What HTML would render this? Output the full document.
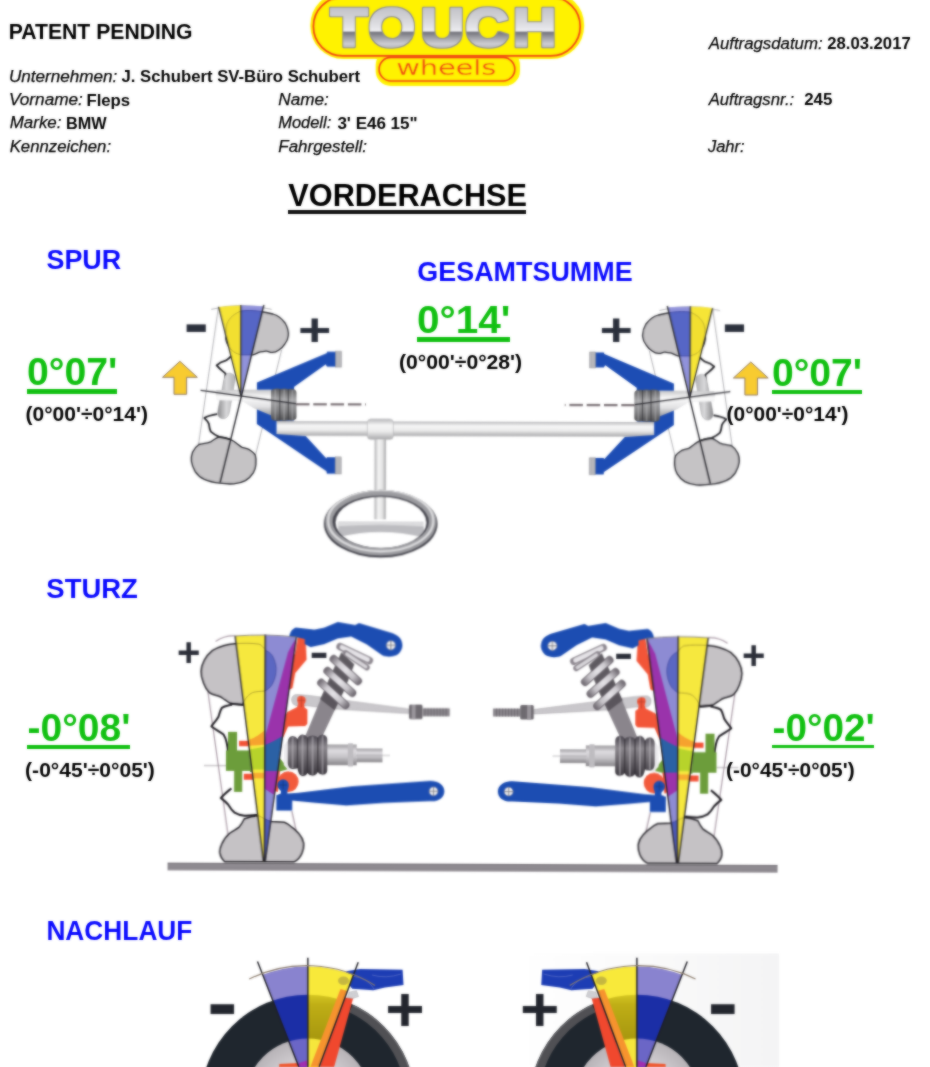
<!DOCTYPE html>
<html lang="de">
<head>
<meta charset="utf-8">
<title>Vorderachse</title>
<style>
html,body{margin:0;padding:0;background:#fff;}
body{width:930px;height:1067px;position:relative;overflow:hidden;font-family:"Liberation Sans",Arial,sans-serif;color:#111;}
.t{position:absolute;left:0;top:0;white-space:nowrap;line-height:1;margin:0;transform-origin:0 0;}
.b{font-weight:bold;color:#000;}
.i{font-style:italic;color:#000;-webkit-text-stroke:0.25px #000;}
.sec{font-weight:bold;color:#0a0aff;}
.val{font-weight:bold;color:#11c011;}
.rng{font-weight:bold;color:#000;}
.u{position:absolute;}
#art{position:absolute;left:0;top:0;}
#txt{position:absolute;left:0;top:0;width:930px;height:1067px;filter:url(#softT);}
</style>
</head>
<body>
<svg id="art" width="930" height="1067" viewBox="0 0 930 1067">
<defs>
<filter id="softT" x="-2%" y="-2%" width="104%" height="104%" color-interpolation-filters="sRGB"><feGaussianBlur stdDeviation="0.9" result="b"/><feComposite in="b" in2="SourceGraphic" operator="arithmetic" k1="0" k2="0.55" k3="0.45" k4="0"/></filter>
<filter id="soft" x="-5%" y="-5%" width="110%" height="110%" color-interpolation-filters="sRGB"><feGaussianBlur stdDeviation="0.9" result="b"/><feComposite in="b" in2="SourceGraphic" operator="arithmetic" k1="0" k2="0.7" k3="0.3" k4="0"/></filter>
<linearGradient id="rodG" x1="0" y1="0" x2="0" y2="1"><stop offset="0" stop-color="#b9b9bb"/><stop offset="0.3" stop-color="#f6f6f6"/><stop offset="0.6" stop-color="#ececec"/><stop offset="1" stop-color="#a9a9ab"/></linearGradient>
<linearGradient id="colG" x1="0" y1="0" x2="1" y2="0"><stop offset="0" stop-color="#b4b4b6"/><stop offset="0.35" stop-color="#f4f4f4"/><stop offset="0.7" stop-color="#e4e4e4"/><stop offset="1" stop-color="#a6a6a8"/></linearGradient>
<linearGradient id="thrG" x1="0" y1="0" x2="0" y2="1"><stop offset="0" stop-color="#5c5c5e"/><stop offset="0.35" stop-color="#a8a8aa"/><stop offset="0.7" stop-color="#808082"/><stop offset="1" stop-color="#4e4e50"/></linearGradient>
<linearGradient id="coneG" x1="0" y1="0" x2="0" y2="1"><stop offset="0" stop-color="#c6c6c8"/><stop offset="0.3" stop-color="#fafafa"/><stop offset="0.65" stop-color="#e2e2e4"/><stop offset="1" stop-color="#9c9c9e"/></linearGradient>
<linearGradient id="flG" x1="0" y1="0" x2="1" y2="0"><stop offset="0" stop-color="#8c8c8e"/><stop offset="0.5" stop-color="#d8d8da"/><stop offset="1" stop-color="#b0b0b2"/></linearGradient>
<path id="spTyreT" d="M240.9 311 C252 309.500 263 311.500 272.800 314 C278 315.500 282.300 319.300 285 323 C288 328 288.600 332 288.200 335.800 C287.800 340 286.500 342 284.600 344.100 C282.500 347.500 281 348.500 278.700 350 C276 352 274 352.600 271.600 352.400 C269.500 352.300 268 350.800 265.700 351.200 C263 351.800 261 351.600 258.600 352.400 C256.500 353.200 255 354.600 252.700 354.800 L240.900 354.800 C237 354 234 352.500 231.400 350 C229 347.500 227.500 345.500 226.700 342.900 C225.500 339.500 225.300 336.500 225.500 333.700 C225.600 330 226 327 226.700 324 C228 320.500 230 318 232.600 315.700 C235.500 313.500 238 312 240.900 311 Z"/>
<clipPath id="spYw"><path d="M218.400 306.900 Q229.500 305.400 240.700 305.400 L240.900 396.200 Z"/></clipPath>
<clipPath id="spBw"><path d="M240.700 305.400 Q252 305.300 263.300 306.300 L240.900 396.200 Z"/></clipPath>
<g id="spurL">
 <!-- wheel thin outline -->
 <path d="M218.4 306.9 L198.6 444.5 M281.5 350 L255.6 455" fill="none" stroke="#a2a2a6" stroke-width="0.85"/>
 <path d="M211 309.4 Q241 301.5 271.5 309.4" fill="none" stroke="#a2a2a6" stroke-width="0.85"/>
 <!-- top tyre -->
 <use href="#spTyreT" fill="#c5c3c5" stroke="#2a2a30" stroke-width="1.3"/>
 <!-- bottom tyre -->
 <path d="M199.2 444.5 C196 446.500 194 449.500 192.700 452.300 C191.500 455.500 191.200 458.500 191.500 461.300 C192 465.500 193.500 468.500 195.300 471.600 C197.500 475 200.500 477.500 204.400 479.400 C209 481.500 214 482.600 219.800 483.200 C224.500 483.900 229 484.200 234 483.900 C238.500 483.500 242 482.500 245.600 480.600 C249 478.500 251.500 476 253.400 472.900 C255 470 255.800 467.500 256 464.500 C256.300 460.500 256.200 457.500 255.300 454.800 C253.500 452 251.500 451 249.500 449.700 C247 448.200 244.500 448.300 241.800 447.100 C239.500 446 238.500 444.500 236.600 443.200 C234.500 441.500 232.500 440.300 230.200 439.400 C227 438 223.500 437 219.800 436.800 C216.500 437.500 214 439.500 210.800 441.900 C207 443.500 203.500 443.500 199.200 444.500 Z" fill="#c5c3c5" stroke="#2a2a30" stroke-width="1.35"/>
 <!-- rim profile jagged -->
 <path d="M232 355.500 L230.800 356.500 C228.500 358.500 227.500 360 225.500 360.700 C222 361.500 219.500 362.500 216.600 365.400 C219 368.500 222.500 371 225.500 373.700 L224.300 385.500" fill="none" stroke="#1e1e23" stroke-width="1.8" stroke-linejoin="round"/>
 <path d="M217.300 414.200 C212 415 208 416 204.400 418.100 C206.500 420 208 421.500 208.900 423.900 C209.200 426.500 209.500 429 210.800 431.600 C213.500 434 216 435.500 219.200 436.800 C223 437.500 227 438.300 230.500 439.500" fill="none" stroke="#1e1e23" stroke-width="1.8" stroke-linejoin="round"/>
 <!-- hub flange -->
 <path d="M229.500 373.200 C233.500 373.500 235.500 376 235 380 L229.500 412 C228.500 417 225.500 419.500 221.500 418.500 C218 417.500 217.300 414 218 410 L224 379 C225 375 226.500 373 229.500 373.200 Z" fill="url(#flG)" stroke="#9a9a9e" stroke-width="0.5"/>
 <!-- blue wishbone -->
 <path d="M256.900 382.500 L326.600 353 L327 351.500 L336.800 351.500 L336.800 366.500 L327 366.500 L325.600 364.200 L294.100 386.800 L294.100 420.500 L276.600 421 L276.600 434 L305.900 436 L326.500 458.300 L327 457 L336.800 457 L336.800 473.500 L327 473.500 L326.600 471.100 L256.900 424 Z" fill="#1d4db4"/>
 <rect x="335.300" y="351" width="6" height="16" fill="#b6b6ba" stroke="#8e8e92" stroke-width="0.5"/>
 <rect x="335.300" y="456.800" width="6" height="17" fill="#b6b6ba" stroke="#8e8e92" stroke-width="0.5"/>
 <!-- spindle cone -->
 <path d="M216.300 390 Q215 395 216.300 400.300 L236 400.800 L243 401.800 L254 408.300 L271.500 415.500 L271.500 389.400 Z" fill="url(#coneG)"/>
 <path d="M203 390.200 L216.300 390.800 L216.300 393.500 Z" fill="#dcdcde"/>
 <!-- threaded cylinder -->
 <path d="M271 392.500 C271 389.500 273 388.800 275 388.800 C277 388.200 279.500 388.300 281 389 C283 388.200 286.500 388.200 288.500 389.200 C290.500 388.500 293.500 388.700 295 389.700 Q296.500 390.500 296.500 392.500 L296.500 417 Q296.500 419 295 419.600 C293 420.600 290.500 420.700 288.500 420 C286.500 421 283 421 281 420.200 C279 421 277 421 275 420.500 C272.500 420.300 271 419.500 271 417 Z" fill="url(#thrG)"/>
 <path d="M279.800 389 V420.300 M288.300 389 V420.200" stroke="#38383c" stroke-width="1.200" opacity="0.7"/>
 <path d="M275.300 389.500 V420 M284.200 389.500 V420 M292.500 390 V419.500" stroke="#c4c4c8" stroke-width="1.800" opacity="0.35"/>
 <!-- axis thin line + dashes -->
 <path d="M200.500 390.300 L296 403.700" stroke="#2e2e34" stroke-width="1.2"/>
 <path d="M296 404.100 H366" stroke="#7b7276" stroke-width="2.300" stroke-dasharray="13.500 3.800"/>
 <!-- wedges -->
 <g clip-path="url(#spYw)">
  <rect x="215" y="300" width="30" height="100" fill="#f6e536"/>
  <use href="#spTyreT" fill="#f2df30" stroke="#b8a830" stroke-width="0.9"/>
 </g>
 <g clip-path="url(#spBw)">
  <rect x="238" y="300" width="30" height="100" fill="#9092da"/>
  <use href="#spTyreT" fill="#5666c6" stroke="#3f4aa6" stroke-width="1"/>
 </g>
 <path d="M218.400 306.900 L240.900 396.200 M240.700 305 L240.900 396.200" stroke="#26262c" stroke-width="1.15" fill="none"/>
 <!-- wheel centre line -->
 <path d="M263.700 304.800 L220.300 482.500" stroke="#222228" stroke-width="1.350"/>
</g>
</defs>
<g filter="url(#soft)" transform="rotate(0.15 240 395)">
 <!-- rack rod -->
 <rect x="276.500" y="421" width="378" height="14.600" fill="url(#rodG)"/>
 <use href="#spurL"/>
 <use href="#spurL" transform="translate(930.800,0) scale(-1,1)"/>
 <!-- boss -->
 <rect x="367.400" y="418.800" width="26" height="20.300" rx="3.500" fill="url(#rodG)" stroke="#b2b2b6" stroke-width="0.6"/>
 <!-- column -->
 <rect x="374.600" y="439" width="11.500" height="80" fill="url(#colG)"/>
 <!-- steering wheel -->
 <path d="M338.500 521.500 L424 521.500 L424 537 Q381 526.500 338.500 537 Z" fill="#bcbcc0"/>
 <path d="M338.500 521.500 L424 521.500 L424 526 Q381 523 338.500 526 Z" fill="#dcdcde"/>
 <clipPath id="ringC"><path clip-rule="evenodd" d="M324.200 523.500 A56.800 33.700 0 1 0 437.800 523.500 A56.800 33.700 0 1 0 324.200 523.500 Z M335.800 522.200 A45.500 25.600 0 1 1 426.800 522.200 A45.500 25.600 0 1 1 335.800 522.200 Z"/></clipPath>
 <g clip-path="url(#ringC)">
  <rect x="320" y="485" width="125" height="78" fill="#45454d"/>
  <ellipse cx="381" cy="521.500" rx="51.800" ry="30" fill="none" stroke="#9c9ca0" stroke-width="7.400"/>
  <ellipse cx="381" cy="520.300" rx="52.600" ry="30.700" fill="none" stroke="#dadadc" stroke-width="2.400"/>
 </g>
</g>
<g filter="url(#soft)">
 <path id="arw" d="M179.900 361.300 L197.300 377.300 L186.600 377.300 L186.600 394.300 L174 394.300 L174 377.300 L162.500 377.300 Z" fill="#f8cb30" stroke="#8f7862" stroke-width="1"/>
 <use href="#arw" transform="translate(570.900,0.700)"/>
 <g font-family="'Liberation Sans',Arial,sans-serif" font-weight="bold" fill="#2b303c" text-anchor="middle">
  <text x="315" y="349" font-size="54" transform="translate(314.750,330.900) scale(1.06,0.84) translate(-315,-331.500)">+</text>
  <text x="616.500" y="349" font-size="54" transform="translate(616.250,330.900) scale(1.06,0.84) translate(-616.500,-331.500)">+</text>
  <text x="196" y="342" font-size="50" transform="translate(196.300,328) scale(0.765,1.38) translate(-196,-325.500)">−</text>
  <text x="734" y="342" font-size="50" transform="translate(734.300,328) scale(0.765,1.38) translate(-734,-325.500)">−</text>
 </g>
</g>

<defs>
<linearGradient id="silv" gradientUnits="userSpaceOnUse" x1="0" y1="5" x2="0" y2="48"><stop offset="0" stop-color="#bebec4"/><stop offset="0.3" stop-color="#d2d2d6"/><stop offset="0.55" stop-color="#e6e6ea"/><stop offset="0.6" stop-color="#f2f2f4"/><stop offset="0.64" stop-color="#74747c"/><stop offset="0.74" stop-color="#9a9aa0"/><stop offset="0.9" stop-color="#cdcdd2"/><stop offset="1" stop-color="#b8b8be"/></linearGradient>
<filter id="tOut" x="-3%" y="-10%" width="106%" height="120%" color-interpolation-filters="sRGB"><feMorphology in="SourceAlpha" operator="dilate" radius="0.8" result="d"/><feFlood flood-color="#8e8e96"/><feComposite in2="d" operator="in" result="o"/><feMerge><feMergeNode in="o"/><feMergeNode in="SourceGraphic"/></feMerge></filter>
</defs>
<g filter="url(#soft)">
 <rect x="310.300" y="-8" width="273.900" height="67" rx="33" fill="#fff200"/>
 <rect x="375.700" y="50" width="144.300" height="36" rx="15" fill="#fff200"/>
 <rect x="313.400" y="-3" width="266.800" height="58.900" rx="29.400" fill="none" stroke="#f03c14" stroke-width="1.700"/>
 <rect x="379.100" y="57.400" width="135.700" height="23.600" rx="11.800" fill="none" stroke="#f03c14" stroke-width="1.600"/>
 <g font-family="'Liberation Sans',Arial,sans-serif" font-weight="bold" font-size="54.5" stroke-linejoin="round" transform="scale(1.1,1)">
  <text x="300.67 335.09 382.44 423.00 466.35" y="46" fill="url(#silv)" stroke="url(#silv)" stroke-width="2.600" filter="url(#tOut)">TOUCH</text>
 </g>
 <text x="0" y="0" transform="translate(396.200,75.200) scale(1.42,1)" font-family="'DejaVu Sans','Liberation Sans',sans-serif" font-size="20.500" textLength="70.500" lengthAdjust="spacing" fill="#ee4612" stroke="#fff200" stroke-width="0.350">wheels</text>
</g>

<defs>
<linearGradient id="belG" x1="0" y1="0" x2="0" y2="1"><stop offset="0" stop-color="#45414a"/><stop offset="0.3" stop-color="#8a868c"/><stop offset="0.55" stop-color="#6e6a70"/><stop offset="1" stop-color="#37333a"/></linearGradient>
<linearGradient id="shG" x1="0" y1="0" x2="0" y2="1"><stop offset="0" stop-color="#9c9a9e"/><stop offset="0.3" stop-color="#dedce0"/><stop offset="0.6" stop-color="#c6c4c8"/><stop offset="1" stop-color="#858387"/></linearGradient>
<linearGradient id="grdG" x1="0" y1="0" x2="0" y2="1"><stop offset="0" stop-color="#6c686e"/><stop offset="0.25" stop-color="#928e94"/><stop offset="0.8" stop-color="#8a868c"/><stop offset="1" stop-color="#a8a4aa"/></linearGradient>
<clipPath id="ywC"><path d="M234.700 636.100 L264.800 635.300 L264.800 862 L263.700 862 Z"/></clipPath>
<clipPath id="bwC"><path d="M264.800 635.300 L296 636.900 L265.700 862 L264.800 862 Z"/></clipPath>
<path id="stTyreT" d="M234.700 643.800 C229 644.300 226 645 223.400 645.800 C218.500 647.300 215 648.800 212.100 650.600 C208.500 653.500 206 656.500 204 660.300 C202 664 201 667.500 200.800 671.600 C200.800 676 201.700 679.500 203.200 682.900 C204.500 686.500 206.500 690 208.900 692.600 C211.500 694.500 214 695 216.900 695.800 C219.500 696.500 221.500 697.500 223.400 699 C225.500 700.500 227.500 702.200 229.800 703.100 C234 704.300 238 704.600 242.700 704.700 C243 703 243.500 701.800 244.400 700.600 C246.500 697 249 694 252.400 692.600 C256 691.400 260 691.500 264.500 691 C267.500 689.500 270 687.500 271.800 684.500 C274.500 679.500 276 674 275.800 668.400 C275.500 663.500 274 659 271.800 655.500 C270 653 268 651.500 265.300 650.600 C263.500 647.500 261.500 645.500 258.900 644.200 C251 643 243 643.200 234.700 643.800 Z"/>
<path id="stTyreB" d="M244.400 819 C243 822 241.500 824.800 239.500 827.100 C236.500 829.500 233 831 229.800 833.500 C226.500 836.500 223.500 840.500 221.800 844.800 C220.500 847.500 220 850 220.200 852.900 C220.700 856.500 222.500 859.500 225 861.800 L294.400 861.800 C298 860 300.800 857 302.400 852.900 C303.800 849.500 304.300 846.500 304 843.200 C303.300 839.500 301.500 836 299.200 833.500 C296.800 830.500 294 828.200 291.100 826.300 C289 824.500 287 823.200 284.700 822.300 C280.500 821.600 276 821.800 271.800 821.500 C267 820.500 263 817.500 258.900 815.800 C254 816 249 817 244.400 819 Z"/>
<linearGradient id="cg0" gradientUnits="userSpaceOnUse" x1="318.0" y1="679.6" x2="348.3" y2="707.8"><stop offset="0" stop-color="#5e5860"/><stop offset="0.28" stop-color="#cfccd1"/><stop offset="0.5" stop-color="#e4e2e6"/><stop offset="0.75" stop-color="#c6c3c8"/><stop offset="1" stop-color="#5e5860"/></linearGradient>
<linearGradient id="cg1" gradientUnits="userSpaceOnUse" x1="324.2" y1="667.8" x2="355.0" y2="695.5"><stop offset="0" stop-color="#5e5860"/><stop offset="0.28" stop-color="#cfccd1"/><stop offset="0.5" stop-color="#e4e2e6"/><stop offset="0.75" stop-color="#c6c3c8"/><stop offset="1" stop-color="#5e5860"/></linearGradient>
<linearGradient id="cg2" gradientUnits="userSpaceOnUse" x1="330.3" y1="655.8" x2="360.7" y2="683.7"><stop offset="0" stop-color="#5e5860"/><stop offset="0.28" stop-color="#cfccd1"/><stop offset="0.5" stop-color="#e4e2e6"/><stop offset="0.75" stop-color="#c6c3c8"/><stop offset="1" stop-color="#5e5860"/></linearGradient>
<g id="sturzL">
 <!-- thin reference outline -->
 <path d="M215.300 641.500 Q224 635.500 234.700 636 M207.500 690 L229 840 M292 811 L296.500 831" fill="none" stroke="#a898a4" stroke-width="1.2"/>
 <path d="M204 765.800 H226" stroke="#8e8a8e" stroke-width="0.7"/>
 <!-- tyres -->
 <use href="#stTyreT" fill="#c5c2c5" stroke="#28262c" stroke-width="1.5"/>
 <use href="#stTyreB" fill="#c5c2c5" stroke="#28262c" stroke-width="1.5"/>
 <!-- rim profile -->
 <path d="M229.800 703.800 L243 705 M232 704.800 C230.500 705 229.500 705.200 228.200 705.500 C225.500 706 223.500 706.800 221.800 707.900 C220 710.500 219.500 713.500 218.500 716.800 C216.500 720.500 213.500 723.500 211.300 726.500 C215 729.500 219.500 732 223.400 734.500 C225 737 226 739.500 226.600 742.600 C227.500 746.500 228 750 228.200 753.900" fill="none" stroke="#1c1a20" stroke-width="2" stroke-linejoin="round"/>
 <path d="M231.500 788.400 C228 791.500 224 794.500 221 798.100 C223.500 800 226 802 228.200 804.500 C230 807.500 232 810.500 234.700 812.600 C238 814.500 241 815.300 244.400 815.800 C249 816 253 815.500 257.300 815" fill="none" stroke="#1c1a20" stroke-width="2" stroke-linejoin="round"/>
 <!-- green hub -->
 <path d="M228 732 L237 732 L237 750.600 L250.300 750.600 L250.300 771 L242.300 771 L242.300 792 L234.200 792 L234.200 771 L226 771 L226 750.600 L228 750.600 Z" fill="#6c9d3b"/>
 <path d="M250 746 L279 757 L288.600 768.900 L278 772 L250 772 Z" fill="#6c9d3b"/>
 <!-- red knuckle parts -->
 <rect x="239" y="740.900" width="12" height="5.400" fill="#f25236"/>
 <rect x="243.900" y="773.800" width="30" height="6" fill="#f25236"/>
 <path d="M266 771 L280 771 L278 792 L266 788.300 Z" fill="#f25236"/>
 <circle cx="288.400" cy="781.600" r="10.300" fill="#f25a3c"/>
 <path d="M249.300 745.700 L249.300 740.300 Q256 737 264.800 730 L282 736 L266 745.200 L264.800 744.500 Q256 745.600 249.300 745.700 Z" fill="#f25236"/>
 <!-- red strut -->
 <path d="M297.400 637.200 Q300.500 634.600 304.600 637 Q306.300 639 305.300 641.500 L306.300 659.500 L295 673 L292.300 688 L288.500 690 L280.500 740 L266.100 733 L295 652.300 Z" fill="#f25538"/>
 <!-- bellows + shaft -->
 <path d="M283.800 745 L290 738 L290 772 L283.800 765 Z" fill="#ecebee"/>
 <rect x="327" y="744.300" width="29.700" height="20.600" fill="url(#shG)"/>
 <rect x="347.800" y="743" width="5.500" height="23.200" rx="1.200" fill="#bebcc0"/>
 <rect x="356.300" y="748.200" width="26.200" height="13.600" fill="url(#shG)"/>
 <path d="M356 755 H390" stroke="#9a989c" stroke-width="0.6"/>
 <!-- tie rod -->
 <path d="M291.500 699 Q292 694.500 297 694.500 L308 695.300 L408.900 708.500 L408.900 713 L330 708.500 L306 705.500 L296 705.500 Q291.500 704.500 291.500 699 Z" fill="#c9c7cb" stroke="#a7a5a9" stroke-width="0.6"/>
 <rect x="408.900" y="704" width="13.500" height="14.500" rx="1.500" fill="#6e6a70"/>
 <rect x="411.500" y="704" width="4" height="14.500" fill="#9a969c"/>
 <rect x="422.400" y="707.600" width="27.200" height="8" fill="#8a868c"/>
 <path d="M425 707.600 V715.600 M428 707.600 V715.600 M431 707.600 V715.600 M434 707.600 V715.600 M437 707.600 V715.600 M440 707.600 V715.600 M443 707.600 V715.600 M446 707.600 V715.600" stroke="#5c585e" stroke-width="0.8" opacity="0.7"/>
 <!-- shock body -->
 <path d="M323.900 690.700 L338.300 702 L321 739 L304.800 737 Z" fill="#8a858c"/>
 <path d="M323.900 690.700 L338.300 702 L334.500 710 L320 699 Z" fill="#5a555c"/>
 <path d="M330 676 L345 688 L338.300 702 L323.900 690.700 Z" fill="#5a565c"/>
 <path d="M341 652 L354 664 L345 688 L330 676 Z" fill="#5e5a60"/>
 <path d="M287.800 742 Q288 736.300 292.500 736 Q296 736.200 297.500 738.800 Q299 734.700 302.500 734.500 Q306.200 734.700 307.500 737.300 Q309 735.600 312.500 735.500 Q316.300 735.600 317.800 737.300 Q319.200 734.700 322.500 734.500 Q327.300 734.800 327.300 739.500 L327.300 770 Q327.300 774.300 322.500 774.500 Q319.200 774.400 317.800 772 Q316.300 775.400 312.500 775.500 Q309 775.400 307.500 773 Q306.200 775.900 302.500 776 Q298.500 775.500 297.500 768.300 Q296 769 292.500 769 Q288 768.500 287.800 763 Z" fill="url(#belG)"/>
 <path d="M297.500 739 V768 M307.500 737.500 V773 M317.800 737.500 V772" stroke="#2e2a30" stroke-width="1.500" opacity="0.6"/>
 <path d="M292.600 737 V768 M302.500 735.500 V775 M312.600 736.500 V774.500 M322.600 735.500 V773.500" stroke="#bab6bc" stroke-width="2" opacity="0.5"/>
 <!-- red tie rod end -->
 <path d="M297.500 697 Q301.500 694.500 305 697.500 Q306.500 701 304 704 L304.500 707.500 L307.300 709.500 L307.300 723.200 Q306 726.500 302 726 L288 726.500 L283 738 L278 736 L287 712 L297 707 L298 703.800 Q296 700.500 297.500 697 Z" fill="#f25538"/>
 <path d="M301.300 696 V707 M297.500 700.300 H305" stroke="#a33a2a" stroke-width="0.6"/>
 <!-- spring coils -->
 <g stroke-linecap="round" fill="none">
  <path d="M321.0 682.6 L345.3 704.8" stroke="#6c666e" stroke-width="8"/>
  <path d="M321.0 682.6 L345.3 704.8" stroke="url(#cg0)" stroke-width="6.200"/>
  <path d="M327.2 670.8 L352.0 692.5" stroke="#6c666e" stroke-width="8"/>
  <path d="M327.2 670.8 L352.0 692.5" stroke="url(#cg1)" stroke-width="6.200"/>
  <path d="M333.3 658.8 L357.7 680.7" stroke="#6c666e" stroke-width="8"/>
  <path d="M333.3 658.8 L357.7 680.7" stroke="url(#cg2)" stroke-width="6.200"/>
  <path d="M339.700 646.300 L369 660.200" stroke="#8a848c" stroke-width="7.400"/>
  <path d="M341.500 647 L367.300 659.200" stroke="#e6e4e8" stroke-width="4.600"/>
  <path d="M345.500 653 L366.500 667" stroke="#8a848c" stroke-width="6"/>
  <path d="M346.500 653.800 L365.500 666.300" stroke="#d9d7db" stroke-width="3.400"/>
 </g>
 <!-- blue upper arm -->
 <path d="M288.900 636.300 C290 631 292.500 628.300 295.600 627.600 L314 629.500 L323.700 627.600 L337.300 621.800 L354.700 624.700 L358.500 622.700 L391.400 632.400 C397 634.500 400 637 401.100 640.200 C402.300 644 402.300 646 401.100 648.900 C399.500 652.500 397 654.800 393.400 655.600 C389 656.500 385.500 656.300 381.800 654.700 L366.300 644 L350.800 636.300 L337.300 638.200 L323.700 644 L310.200 646.900 L304.400 644 L304.400 639 L296 637 Z" fill="#1c4db2"/>
 <circle cx="390.500" cy="644.800" r="4.600" fill="#f2f2f4" stroke="#6e7aa0" stroke-width="0.7"/>
 <path d="M390.500 640.200 V649.400 M385.900 644.800 H395.100" stroke="#6a6a72" stroke-width="0.8"/>
 <!-- blue lower arm -->
 <path d="M277.500 785 A5.700 5.700 0 1 1 288.900 785 C288.900 788 287.800 789.500 287.500 791 L287.500 793.500 L298.200 792.700 L352.400 786 L429.800 780.200 C437 779.700 444.500 783.500 444.500 790.500 C444.500 797.500 438 801.300 429.800 800.500 L383.400 802.400 L346.600 805.300 L313.700 802.400 L292.400 800.500 L292.400 810.500 L276.500 810.500 L276.500 795.300 L281 793.500 L281 791 C279.500 789.500 277.500 788 277.500 785 Z" fill="#1c4db2"/>
 <circle cx="433.700" cy="790.700" r="4.400" fill="#f2f2f4" stroke="#6e7aa0" stroke-width="0.7"/>
 <path d="M433.700 786.300 V795.100 M429.300 790.700 H438.100" stroke="#6a6a72" stroke-width="0.8"/>
 <path d="M283.200 781 V789 M279.500 785 H287" stroke="#16327a" stroke-width="0.7"/>
 <!-- yellow wedge -->
 <g clip-path="url(#ywC)">
  <rect x="230" y="630" width="40" height="240" fill="#f6e83e"/>
  <path d="M266 729.500 Q257 737.500 247 740.600 L247 745.800 Q257 745.500 266 744.300 Z" fill="#f6a22e"/>
  <path d="M244 750.500 Q256 748.500 266 746.300 L266 769.500 L244 769.500 Z" fill="#b7d32b"/>
  <rect x="244" y="772.800" width="22" height="5.600" fill="#f7ab30"/>
  <use href="#stTyreT" fill="none" stroke="#b5a630" stroke-width="1"/>
  <use href="#stTyreB" fill="#efe040" stroke="#b5a630" stroke-width="0.8"/>
 </g>
 <!-- blue wedge -->
 <g clip-path="url(#bwC)">
  <rect x="262" y="630" width="40" height="240" fill="#8d8bd3"/>
  <use href="#stTyreT" fill="#5b67c2" stroke="#4a52a8" stroke-width="1"/>
  <use href="#stTyreB" fill="#4f5bb8" stroke="#3f479c" stroke-width="1"/>
  <path d="M297 636 L291.500 645 L287.700 652.300 L266.100 733 L264 746 L300 746 L300 636 Z" fill="#9a33ab"/>
  <path d="M264 745.600 Q273 742 282.500 736 L282.500 771 L264 771 Z" fill="#2b61a5"/>
  <path d="M264 771 L282 771 L282 795 L274.500 795 L264 788.300 Z" fill="#9a33ab"/>
 </g>
 <!-- wedge lines -->
 <path d="M234.700 636.100 L263.900 862 M264.800 634.500 V862 M296 636.900 L265.500 862" fill="none" stroke="#222026" stroke-width="1.300"/>
 <path d="M234 636.100 Q265 633.500 296.500 637" fill="none" stroke="#6e6a70" stroke-width="0.8"/>
</g>
</defs>
<g filter="url(#soft)" transform="rotate(0.22 265 750)">
 <rect x="168" y="863" width="610" height="7.800" fill="url(#grdG)"/>
 <use href="#sturzL"/>
 <use href="#sturzL" transform="translate(942.500,0) scale(-1,1)"/>
</g>
<g filter="url(#soft)" font-family="'Liberation Sans',Arial,sans-serif" font-weight="bold" fill="#2b2e38" text-anchor="middle">
 <text x="188.700" y="666" font-size="40">+</text>
 <text x="753.800" y="668.500" font-size="40">+</text>
 <text x="0" y="0" font-size="34" transform="translate(319,654.500) scale(0.86,1.4) translate(0,11.700)">−</text>
 <text x="0" y="0" font-size="34" transform="translate(623.500,656) scale(0.86,1.4) translate(0,11.700)">−</text>
</g>

<defs>
<clipPath id="nTy"><circle cx="307.850" cy="1102" r="107.300"/></clipPath>
<clipPath id="nRim"><circle cx="307.850" cy="1102" r="63.500"/></clipPath>
<clipPath id="nBw"><path d="M307.850 1095 L307.850 960 L250 960 L250 975 L259.500 966.500 L298.900 1067 L301.500 1075 Z"/></clipPath>
<clipPath id="nYw"><path d="M307.850 1095 L307.850 960 L365 960 L356.500 966.800 L319.100 1067 L316 1075 Z"/></clipPath>
<clipPath id="nArc"><circle cx="307.850" cy="1095" r="128.500"/></clipPath>
<linearGradient id="nOl" gradientUnits="userSpaceOnUse" x1="0" y1="994" x2="0" y2="1038"><stop offset="0" stop-color="#d6c722"/><stop offset="0.25" stop-color="#bfae16"/><stop offset="1" stop-color="#a8980f"/></linearGradient>
<radialGradient id="nRimG" gradientUnits="userSpaceOnUse" cx="307.850" cy="1102" r="63.500"><stop offset="0" stop-color="#dedade"/><stop offset="0.7" stop-color="#cdc9cd"/><stop offset="1" stop-color="#b6b2b6"/></radialGradient>
<linearGradient id="nBg" x1="0" y1="0" x2="1" y2="0"><stop offset="0" stop-color="#ffffff"/><stop offset="0.4" stop-color="#fbfbfb"/><stop offset="1" stop-color="#f4f4f5"/></linearGradient>
<g id="nachL">
 <!-- tyre -->
 <circle cx="307.850" cy="1102" r="107.300" fill="#1f262e"/>
 <path d="M351 1008.500 A102.500 102.500 0 0 1 406 1072" fill="none" stroke="#505054" stroke-width="8.500" clip-path="url(#nTy)"/>
 <path d="M353.500 1005.500 A106.300 106.300 0 0 1 410.500 1072" fill="none" stroke="#626266" stroke-width="2" clip-path="url(#nTy)"/>
 <circle cx="307.850" cy="1102" r="63.500" fill="url(#nRimG)"/>
 <!-- bottom small parts -->
 <path d="M279.300 1064 L299 1063 L308 1067 L279 1067 Z" fill="#f2552c"/>
 <!-- blue arm -->
 <path d="M346.200 971.300 L360 969 L402.600 969.800 L403.500 984.900 L385 987.500 L373.300 990.200 L352.200 988.700 L347 982 Z" fill="#1d3db4"/>
 <path d="M352 976 Q368 978 374 989 M372 975 Q386 979 401 974" fill="none" stroke="#5f73c8" stroke-width="0.7"/>
 <!-- red strip + shock top -->
 <path d="M319.800 1067 L334.100 1067 L353.300 997.700 L345 997.700 Z" fill="#f0482e"/>
 <path d="M349.500 992 L356.500 990.800 L358.500 996.500 L352.500 998.500 L347.500 997.800 Z" fill="#cfcfd3" stroke="#a4a4a8" stroke-width="0.5"/>
 <!-- blue wedge -->
 <g clip-path="url(#nBw)"><g clip-path="url(#nArc)">
  <rect x="245" y="955" width="65" height="140" fill="#8983cf"/>
  <g clip-path="url(#nTy)"><rect x="245" y="955" width="65" height="140" fill="#1b2ea6"/>
   <g clip-path="url(#nRim)"><rect x="245" y="955" width="65" height="140" fill="#6b66c6"/></g></g>
  <path d="M299 1063 L308 1060 L308 1067 L298 1067 Z" fill="#a02eb0"/>
 </g></g>
 <!-- yellow wedge -->
 <g clip-path="url(#nYw)"><g clip-path="url(#nArc)">
  <rect x="305" y="955" width="65" height="140" fill="#f8e93a"/>
  <ellipse cx="343.500" cy="980.800" rx="5.500" ry="4.200" fill="#c5b740"/>
  <g clip-path="url(#nTy)"><rect x="305" y="955" width="65" height="140" fill="url(#nOl)"/>
   <g clip-path="url(#nRim)"><rect x="305" y="955" width="65" height="140" fill="#f6e63c"/></g></g>
  <path d="M310.300 1067 L319.100 1067 L347.500 991 L340.500 989 Z" fill="#f6932e"/>
 </g></g>
 <!-- lines -->
 <path d="M307.850 957.800 V1067 M257.500 961.600 L298.900 1067 M358.200 962.300 L319.100 1067" stroke="#1e1e26" stroke-width="1.450" fill="none"/>
 <path d="M249.200 978.900 A128.800 128.800 0 0 1 375 985.500" fill="none" stroke="#8a7a6a" stroke-width="1.1"/>
</g>
</defs>
<g filter="url(#soft)">
 <rect x="523" y="953.500" width="256" height="114" fill="url(#nBg)"/>
 <use href="#nachL"/>
 <use href="#nachL" transform="translate(944.750,0) scale(-1,1)"/>
</g>
<g filter="url(#soft)" font-family="'Liberation Sans',Arial,sans-serif" font-weight="bold" fill="#23262e" text-anchor="middle">
 <text x="0" y="0" font-size="65" transform="translate(405.000,1009.200) scale(1.04,0.98) translate(0,22.400)">+</text>
 <text x="0" y="0" font-size="65" transform="translate(539.700,1009.200) scale(1.04,0.98) translate(0,22.400)">+</text>
 <text x="0" y="0" font-size="46" transform="translate(222.100,1008.400) scale(1.02,1.95) translate(0,15.900)">−</text>
 <text x="0" y="0" font-size="46" transform="translate(722.600,1008.400) scale(1.02,1.95) translate(0,15.900)">−</text>
</g>

</svg>
<div id="txt">
<div class="t b" style="font-size:21.15px;transform:translate(8.80px,20.70px) scaleX(1.0008)">PATENT PENDING</div>
<div class="t i" style="font-size:16.85px;transform:translate(8.93px,68.76px) scaleX(1.0152)">Unternehmen:</div>
<div class="t b" style="font-size:16.85px;transform:translate(121.55px,69.00px) scaleX(0.9917)">J. Schubert SV-Büro Schubert</div>
<div class="t i" style="font-size:16.85px;transform:translate(8.92px,92.26px) scaleX(1.0219)">Vorname:</div>
<div class="t b" style="font-size:16.85px;transform:translate(86.41px,92.50px) scaleX(0.9941)">Fleps</div>
<div class="t i" style="font-size:16.85px;transform:translate(9.70px,115.46px) scaleX(1.0059)">Marke:</div>
<div class="t b" style="font-size:16.85px;transform:translate(66.03px,115.70px) scaleX(0.9659)">BMW</div>
<div class="t i" style="font-size:16.85px;transform:translate(9.70px,138.76px) scaleX(0.9931)">Kennzeichen:</div>
<div class="t i" style="font-size:16.85px;transform:translate(278.29px,92.26px) scaleX(1.0165)">Name:</div>
<div class="t i" style="font-size:16.85px;transform:translate(278.31px,115.46px) scaleX(0.9746)">Modell:</div>
<div class="t b" style="font-size:16.85px;transform:translate(337.40px,115.70px) scaleX(1.0096)">3' E46 15"</div>
<div class="t i" style="font-size:16.85px;transform:translate(278.30px,138.76px) scaleX(1.0069)">Fahrgestell:</div>
<div class="t i" style="font-size:16.85px;transform:translate(708.70px,36.06px) scaleX(0.9969)">Auftragsdatum:</div>
<div class="t b" style="font-size:16.85px;transform:translate(827.20px,36.30px) scaleX(0.9904)">28.03.2017</div>
<div class="t i" style="font-size:16.85px;transform:translate(708.69px,92.16px) scaleX(0.9885)">Auftragsnr.:</div>
<div class="t b" style="font-size:16.85px;transform:translate(804.20px,92.40px) scaleX(1.0018)">245</div>
<div class="t i" style="font-size:16.85px;transform:translate(707.94px,139.36px) scaleX(0.9799)">Jahr:</div>
<div class="t b" style="font-size:30.68px;transform:translate(288.35px,180.70px) scaleX(1.0002)">VORDERACHSE</div>
<div class="t sec" style="font-size:26.83px;transform:translate(46.45px,247.20px) scaleX(1.0034)">SPUR</div>
<div class="t sec" style="font-size:26.83px;transform:translate(417.30px,259.10px) scaleX(1.0033)">GESAMTSUMME</div>
<div class="t sec" style="font-size:26.83px;transform:translate(46.33px,576.00px) scaleX(1.0234)">STURZ</div>
<div class="t sec" style="font-size:26.83px;transform:translate(46.39px,918.20px) scaleX(0.9798)">NACHLAUF</div>
<div class="t val" style="font-size:39.33px;transform:translate(417.05px,300.40px) scaleX(1.0304)">0°14'</div>
<div class="t val" style="font-size:39.33px;transform:translate(26.90px,352.40px) scaleX(0.9983)">0°07'</div>
<div class="t val" style="font-size:39.33px;transform:translate(771.91px,352.80px) scaleX(0.9948)">0°07'</div>
<div class="t val" style="font-size:39.33px;transform:translate(27.51px,707.60px) scaleX(0.9925)">-0°08'</div>
<div class="t val" style="font-size:39.33px;transform:translate(772.52px,707.60px) scaleX(0.9845)">-0°02'</div>
<div class="t rng" style="font-size:21.03px;transform:translate(398.99px,350.70px) scaleX(1.0058)">(0°00'÷0°28')</div>
<div class="t rng" style="font-size:21.03px;transform:translate(25.50px,402.90px) scaleX(1.0000)">(0°00'÷0°14')</div>
<div class="t rng" style="font-size:21.03px;transform:translate(726.60px,402.90px) scaleX(0.9950)">(0°00'÷0°14')</div>
<div class="t rng" style="font-size:21.03px;transform:translate(25.10px,759.00px) scaleX(1.0024)">(-0°45'÷0°05')</div>
<div class="t rng" style="font-size:21.03px;transform:translate(726.01px,758.80px) scaleX(0.9937)">(-0°45'÷0°05')</div>
<div class="u" style="left:288.0px;top:210.3px;width:238.4px;height:3.5px;background:#111"></div>
<div class="u" style="left:417.2px;top:337.3px;width:92.4px;height:4.3px;background:#11c011"></div>
<div class="u" style="left:26.9px;top:389.2px;width:89.9px;height:4.4px;background:#11c011"></div>
<div class="u" style="left:771.9px;top:389.5px;width:90.3px;height:4.3px;background:#11c011"></div>
<div class="u" style="left:27.0px;top:744.5px;width:103.0px;height:4.0px;background:#11c011"></div>
<div class="u" style="left:771.9px;top:744.7px;width:102.3px;height:3.8px;background:#11c011"></div>
</div>
</body>
</html>
